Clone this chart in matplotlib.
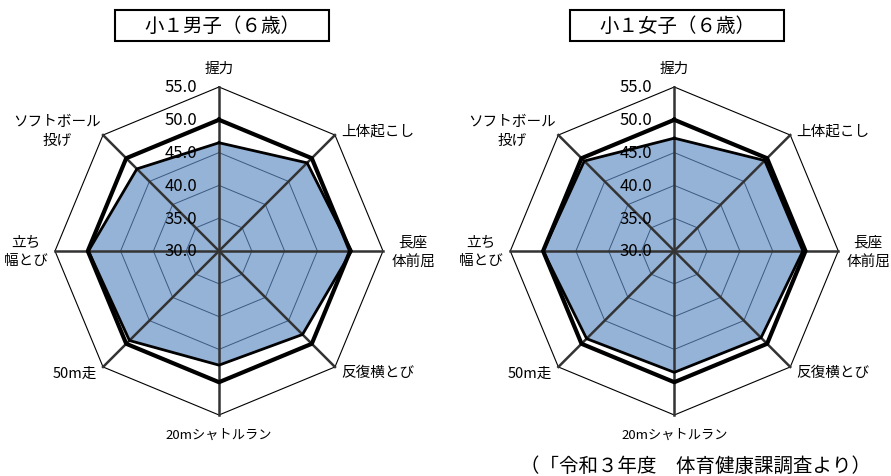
import numpy as np
import matplotlib
matplotlib.use("Agg")
import matplotlib.pyplot as plt
from matplotlib.patches import Rectangle

plt.rcParams['font.family'] = ['Noto Sans CJK JP', 'DejaVu Sans']

# 項目（時計回り、上から）
items = ['握力', '上体起こし', '長座\n体前屈', '反復横とび', '20mシャトルラン',
         '50m走', '立ち\n幅とび', 'ソフトボール\n投げ']
boys = [46.5, 49.0, 50.2, 48.0, 47.4, 49.3, 49.9, 47.7]
girls = [47.2, 49.5, 49.6, 48.7, 48.5, 48.9, 50.0, 49.4]
national = [50.0] * 8
rings = [30.0, 35.0, 40.0, 45.0, 50.0, 55.0]
titles = ['小１男子（６歳）', '小１女子（６歳）']
source = '（「令和３年度　体育健康課調査より）'

W, H = 891, 477
PX = 164 / 25.0          # pixel per score unit
VMIN, VMAX = 30.0, 55.0

# label offsets in pixels from the centre (dx, dy, ha)
label_pos = [(0, 183, 'center'), (122, 120, 'left'), (194, 0, 'center'),
             (122, -121, 'left'), (0, -183, 'center'), (-122, -122, 'right'),
             (-193, 0, 'center'), (-162, 121, 'center')]

ang = np.pi / 2 - np.arange(8) * np.pi / 4


def xy(vals):
    r = np.asarray(vals) - VMIN
    x = r * np.cos(ang)
    y = r * np.sin(ang)
    return np.append(x, x[0]), np.append(y, y[0])


def radar(cx, vals, title):
    cy = 252
    half = 200
    ax = fig.add_axes([(cx - half) / W, (H - cy - half) / H, 2 * half / W, 2 * half / H])
    lim = half / PX
    ax.set_xlim(-lim, lim)
    ax.set_ylim(-lim, lim)
    ax.axis('off')

    x, y = xy(vals)
    ax.fill(x, y, color='#95b3d7', zorder=1)
    for v in rings[1:-1]:
        gx, gy = xy([v] * 8)
        ax.plot(gx, gy, color='#3c5a80', lw=0.7, zorder=2)
    gx, gy = xy([VMAX] * 8)
    ax.plot(gx, gy, color='black', lw=0.8, zorder=2)
    for a in ang:
        ax.plot([0, (VMAX - VMIN) * np.cos(a)], [0, (VMAX - VMIN) * np.sin(a)],
                color='#333333', lw=1.8, zorder=3)
    ax.plot(x, y, color='black', lw=2.0, zorder=4)
    nx, ny = xy(national)
    ax.plot(nx, ny, color='black', lw=3.0, zorder=5)

    for v in rings:
        ax.text(-22 / PX, v - VMIN, '%.1f' % v, ha='right', va='center',
                fontsize=12, zorder=6)
    for name, (dx, dy, ha) in zip(items, label_pos):
        fs = 9.5 if name.startswith('20m') else 10.5
        ax.text(dx / PX, dy / PX, name, ha=ha, va='center', fontsize=fs,
                linespacing=1.45, multialignment='center')

    # title box
    bw, bh = 214, 31.6
    fig.patches.append(Rectangle(((cx + 3 - bw / 2) / W, (H - 42.3) / H), bw / W, bh / H,
                                 transform=fig.transFigure, fill=False,
                                 edgecolor='black', lw=1.5))
    fig.text((cx + 3) / W, (H - 26.5) / H, title, ha='center', va='center', fontsize=14)


fig = plt.figure(figsize=(W / 100, H / 100), dpi=100)
radar(219, boys, titles[0])
radar(674.3, girls, titles[1])
fig.text(695 / W, (H - 466.5) / H, source, ha='center', va='center', fontsize=14)
fig.savefig('out.png', dpi=100)
